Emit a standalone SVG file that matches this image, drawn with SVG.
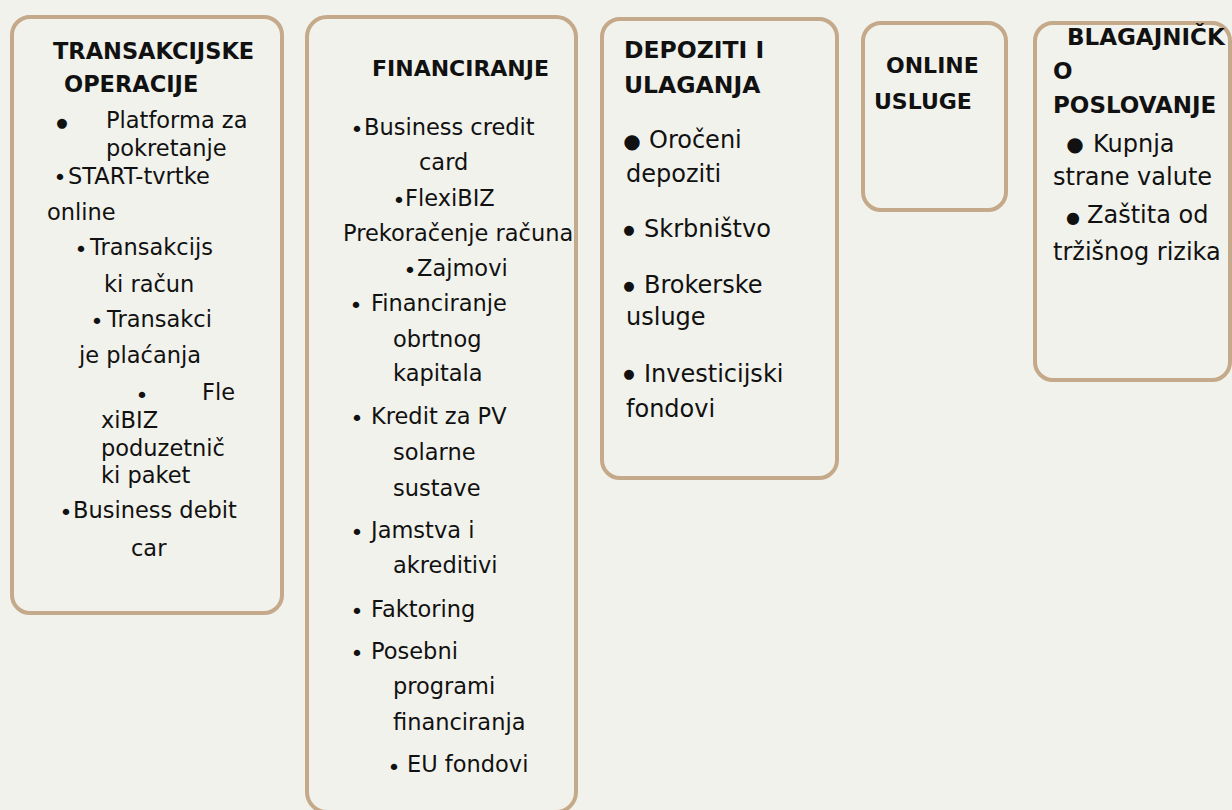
<svg xmlns="http://www.w3.org/2000/svg" width="1232" height="810" viewBox="0 0 1232 810">
<style>
.bg{fill:#F2F2EC}
.box{fill:#F2F2EC;stroke:#C4A98A;stroke-width:4}
text{font-family:"DejaVu Sans","Liberation Sans",sans-serif;fill:#111}
.r{font-size:22.5px}
.l{font-size:24px}
.h{font-size:22px;font-weight:bold}
.h1{font-size:22.5px;font-weight:bold}
.hl{font-size:23.5px;font-weight:bold}
.h5{font-size:23px;font-weight:bold}
.ds{font-size:22px}
.dm{font-size:13px}
.dn{font-size:16px}
.dl{font-size:20px}
.c{text-anchor:middle}
</style>
<rect class="bg" x="0" y="0" width="1232" height="810"/>
<g id="connectors"></g>
<g id="transakcijske">
<rect class="box" x="12" y="17" width="270" height="596" rx="18"/>
<text class="h1" x="53" y="59">TRANSAKCIJSKE</text>
<text class="h1" x="64" y="92">OPERACIJE</text>
<text class="dm c" x="62" y="126.5">●</text>
<text class="r" x="106" y="128">Platforma za</text>
<text class="r" x="106" y="156">pokretanje</text>
<text class="ds c" x="60" y="185">•</text>
<text class="r" x="68" y="184">START-tvrtke</text>
<text class="r" x="47" y="220">online</text>
<text class="ds c" x="81" y="257">•</text>
<text class="r" x="90" y="255">Transakcijs</text>
<text class="r" x="104" y="292">ki račun</text>
<text class="ds c" x="97" y="329">•</text>
<text class="r" x="107" y="327">Transakci</text>
<text class="r" x="79" y="363">je plaćanja</text>
<text class="ds c" x="142" y="403">•</text>
<text class="r" x="202" y="400">Fle</text>
<text class="r" x="101" y="428">xiBIZ</text>
<text class="r" x="101" y="456">poduzetnič</text>
<text class="r" x="101" y="483">ki paket</text>
<text class="ds c" x="66" y="520">•</text>
<text class="r" x="73" y="518">Business debit</text>
<text class="r" x="131" y="556">car</text>
</g>
<g id="financiranje">
<rect class="box" x="307" y="17" width="269" height="795" rx="20"/>
<text class="h" x="372" y="76">FINANCIRANJE</text>
<text class="ds c" x="357" y="137">•</text>
<text class="r" x="364" y="135">Business credit</text>
<text class="r" x="419" y="170">card</text>
<text class="ds c" x="399" y="208">•</text>
<text class="r" x="405" y="206">FlexiBIZ</text>
<text class="r" x="343" y="241">Prekoračenje računa</text>
<text class="ds c" x="410" y="278">•</text>
<text class="r" x="417" y="276">Zajmovi</text>
<text class="ds c" x="356" y="313">•</text>
<text class="r" x="371" y="311">Financiranje</text>
<text class="r" x="393" y="347">obrtnog</text>
<text class="r" x="393" y="381">kapitala</text>
<text class="ds c" x="357" y="426">•</text>
<text class="r" x="371" y="424">Kredit za PV</text>
<text class="r" x="393" y="460">solarne</text>
<text class="r" x="393" y="496">sustave</text>
<text class="ds c" x="357" y="540">•</text>
<text class="r" x="371" y="538">Jamstva i</text>
<text class="r" x="393" y="573">akreditivi</text>
<text class="ds c" x="357" y="619">•</text>
<text class="r" x="371" y="617">Faktoring</text>
<text class="ds c" x="357" y="661">•</text>
<text class="r" x="371" y="659">Posebni</text>
<text class="r" x="393" y="694">programi</text>
<text class="r" x="393" y="730">financiranja</text>
<text class="ds c" x="394" y="775">•</text>
<text class="r" x="407" y="772">EU fondovi</text>
</g>
<g id="depoziti">
<rect class="box" x="602" y="19" width="235" height="459" rx="18"/>
<text class="hl" x="624" y="58">DEPOZITI I</text>
<text class="hl" x="624" y="93">ULAGANJA</text>
<text class="dl c" x="632" y="148">●</text>
<text class="l" x="649" y="148">Oročeni</text>
<text class="l" x="626" y="182">depoziti</text>
<text class="dm c" x="629" y="234">●</text>
<text class="l" x="644" y="237">Skrbništvo</text>
<text class="dm c" x="629" y="290">●</text>
<text class="l" x="644" y="293">Brokerske</text>
<text class="l" x="626" y="325">usluge</text>
<text class="dm c" x="629" y="378">●</text>
<text class="l" x="644" y="382">Investicijski</text>
<text class="l" x="626" y="417">fondovi</text>
</g>
<g id="online">
<rect class="box" x="863" y="23" width="143" height="187" rx="18"/>
<text class="h" x="886" y="73">ONLINE</text>
<text class="h" x="874" y="109">USLUGE</text>
</g>
<g id="blagajnicko">
<rect class="box" x="1035" y="23" width="195" height="357" rx="18"/>
<text class="h5" x="1067" y="45">BLAGAJNIČK</text>
<text class="h5" x="1053" y="79">O</text>
<text class="h5" x="1053" y="113">POSLOVANJE</text>
<text class="dl c" x="1075" y="150.7">●</text>
<text class="l" x="1093" y="152">Kupnja</text>
<text class="l" x="1053" y="185">strane valute</text>
<text class="dn c" x="1073" y="222.6">●</text>
<text class="l" x="1087" y="223">Zaštita od</text>
<text class="l" x="1053" y="260">tržišnog rizika</text>
</g>
</svg>
